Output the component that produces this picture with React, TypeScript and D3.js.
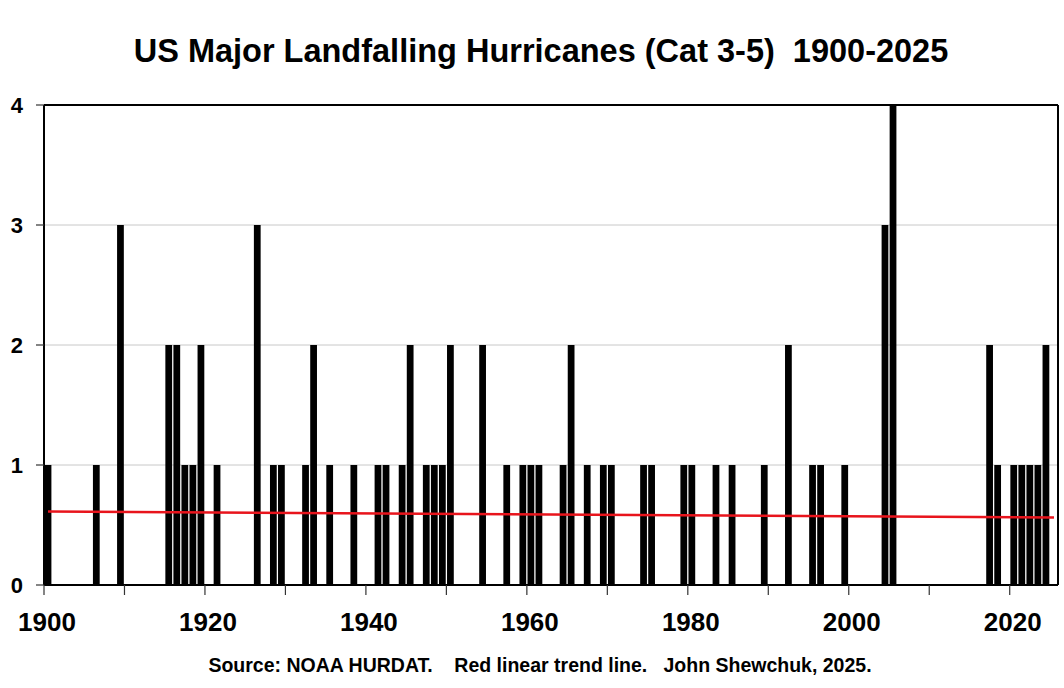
import React from "react";
import * as d3 from "d3";

const title = "US Major Landfalling Hurricanes (Cat 3-5)  1900-2025";
const footnote = "Source: NOAA HURDAT.    Red linear trend line.   John Shewchuk, 2025.";

const firstYear = 1900;
const lastYear = 2025;

// years with at least one Cat 3-5 US landfall, and the count
const hitYears = [
  1900, 1906, 1909, 1915, 1916, 1917, 1918, 1919, 1921, 1926, 1928, 1929, 1932, 1933,
  1935, 1938, 1941, 1942, 1944, 1945, 1947, 1948, 1949, 1950, 1954, 1957, 1959, 1960,
  1961, 1964, 1965, 1967, 1969, 1970, 1974, 1975, 1979, 1980, 1983, 1985, 1989, 1992,
  1995, 1996, 1999, 2004, 2005, 2017, 2018, 2020, 2021, 2022, 2023, 2024,
];
const hitCounts = [
  1, 1, 3, 2, 2, 1, 1, 2, 1, 3, 1, 1, 1, 2,
  1, 1, 1, 1, 1, 2, 1, 1, 1, 2, 2, 1, 1, 1,
  1, 1, 2, 1, 1, 1, 1, 1, 1, 1, 1, 1, 1, 2,
  1, 1, 1, 3, 4, 2, 1, 1, 1, 1, 1, 2,
];

const yTicks = [0, 1, 2, 3, 4];
const xTickYears = [1900, 1910, 1920, 1930, 1940, 1950, 1960, 1970, 1980, 1990, 2000, 2010, 2020];
const xLabelYears = [1900, 1920, 1940, 1960, 1980, 2000, 2020];

const W = 1064;
const H = 688;
const left = 44;
const right = 1058;
const top = 105;
const bottom = 585;

export default function App() {
  const years = d3.range(firstYear, lastYear + 1);
  const countOf = new Map(hitYears.map((y, i) => [y, hitCounts[i]]));
  const data = years.map((y) => ({ year: y, n: countOf.get(y) ?? 0 }));

  const x = d3.scaleBand<number>().domain(years).range([left, right]).paddingInner(0.16).paddingOuter(0.08);
  const xLin = d3.scaleLinear().domain([firstYear, lastYear + 1]).range([left, right]);
  const y = d3.scaleLinear().domain([0, 4]).range([bottom, top]);

  // least squares trend
  const mx = d3.mean(data, (d) => d.year)!;
  const my = d3.mean(data, (d) => d.n)!;
  const slope =
    d3.sum(data, (d) => (d.year - mx) * (d.n - my)) / d3.sum(data, (d) => (d.year - mx) ** 2);
  const fit = (yr: number) => my + slope * (yr - mx);
  const cx = (yr: number) => x(yr)! + x.bandwidth() / 2;
  const trend = d3
    .line<number>()
    .x((yr) => cx(yr))
    .y((yr) => y(fit(yr)))([firstYear, lastYear]);

  return (
    <svg
      width={W}
      height={H}
      style={{ position: "absolute", left: 0, top: 0, background: "#fff" }}
      fontFamily="'Liberation Sans', Arial, sans-serif"
      fontWeight="bold"
    >
      <rect width={W} height={H} fill="#fff" />
      <text x={541} y={62} textAnchor="middle" fontSize={32.5} style={{ whiteSpace: "pre" }}>
        {title}
      </text>

      {yTicks.slice(1, 4).map((t) => (
        <line key={t} x1={left} x2={right} y1={y(t)} y2={y(t)} stroke="#c8c8c8" strokeWidth={1} />
      ))}

      {data.map((d) =>
        d.n > 0 ? (
          <rect key={d.year} x={x(d.year)} y={y(d.n)} width={x.bandwidth()} height={bottom - y(d.n)} fill="#000" />
        ) : null
      )}

      <path d={trend!} stroke="#e8141c" strokeWidth={2.5} fill="none" />

      {/* frame */}
      <line x1={left} x2={right} y1={top} y2={top} stroke="#000" strokeWidth={2} />
      <line x1={right} x2={right} y1={top} y2={bottom} stroke="#000" strokeWidth={2} />
      <line x1={left} x2={left} y1={top} y2={bottom} stroke="#000" strokeWidth={2} />
      <line x1={left} x2={right} y1={bottom} y2={bottom} stroke="#000" strokeWidth={2} />

      {yTicks.map((t) => (
        <g key={t}>
          <line x1={left - 8} x2={left} y1={y(t)} y2={y(t)} stroke="#333" strokeWidth={1.2} />
          <text x={23} y={y(t) + 8} textAnchor="end" fontSize={22}>
            {t}
          </text>
        </g>
      ))}

      {xTickYears.map((yr) => (
        <line key={yr} x1={xLin(yr)} x2={xLin(yr)} y1={bottom} y2={bottom + 10} stroke="#333" strokeWidth={1.2} />
      ))}
      {xLabelYears.map((yr) => (
        <text key={yr} x={xLin(yr) + 3} y={631} textAnchor="middle" fontSize={26}>
          {yr}
        </text>
      ))}

      <text x={540} y={672} textAnchor="middle" fontSize={19.5} style={{ whiteSpace: "pre" }}>
        {footnote}
      </text>
    </svg>
  );
}
